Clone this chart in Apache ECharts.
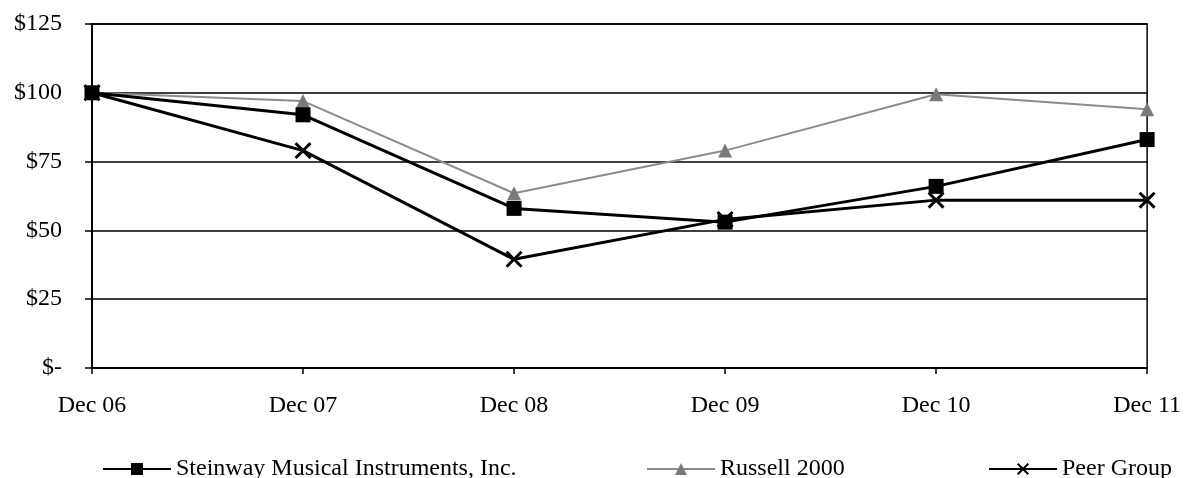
<!DOCTYPE html>
<html>
<head>
<meta charset="utf-8">
<script src="https://cdn.jsdelivr.net/npm/echarts@6/dist/echarts.min.js"></script>
<style>
html,body{margin:0;padding:0;background:#fff;}
#c{width:1184px;height:478px;}
</style>
</head>
<body>
<div id="c"></div>
<script>
const categories = ['Dec 06', 'Dec 07', 'Dec 08', 'Dec 09', 'Dec 10', 'Dec 11'];
const steinway = [100, 92, 58, 53, 66, 83];
const russell = [100, 97, 63.5, 79, 99.5, 94];
const peer = [100, 79, 39.5, 54, 61, 61];
const yTicks = [0, 25, 50, 75, 100, 125];

const FONT = 'Liberation Serif';
const FS = 24;
const crossPath = 'path://M0,1.2 L1.2,0 L5,3.8 L8.8,0 L10,1.2 L6.2,5 L10,8.8 L8.8,10 L5,6.2 L1.2,10 L0,8.8 L3.8,5 Z';

const chart = echarts.init(document.getElementById('c'), null, {renderer: 'canvas'});
const legendText = {color: '#000', fontFamily: FONT, fontSize: FS};
chart.setOption({
  animation: false,
  backgroundColor: '#fff',
  textStyle: {fontFamily: FONT, color: '#000'},
  grid: {left: 92, right: 36, top: 24, bottom: 110, show: true, borderColor: '#000', borderWidth: 1.5, backgroundColor: 'transparent'},
  legend: [
    {data: ['Steinway Musical Instruments, Inc.'], left: 97, top: 452, itemWidth: 68, itemHeight: 15, textStyle: legendText},
    {data: ['Russell 2000'], left: 641, top: 452, itemWidth: 68, itemHeight: 15, textStyle: legendText},
    {data: ['Peer Group'], left: 983, top: 452, itemWidth: 68, itemHeight: 15, textStyle: legendText}
  ],
  xAxis: {
    type: 'category',
    data: categories,
    boundaryGap: false,
    axisLine: {show: true, lineStyle: {color: '#000', width: 1.5}},
    axisTick: {show: true, length: 6, lineStyle: {color: '#000', width: 1.5}},
    axisLabel: {color: '#000', fontFamily: FONT, fontSize: FS, margin: 26},
    splitLine: {show: false}
  },
  yAxis: {
    type: 'value',
    min: yTicks[0],
    max: yTicks[yTicks.length - 1],
    interval: 25,
    axisLine: {show: true, lineStyle: {color: '#000', width: 2}},
    axisTick: {show: true, length: 7, lineStyle: {color: '#000', width: 1.5}},
    axisLabel: {color: '#000', fontFamily: FONT, fontSize: FS, margin: 30,
      formatter: v => v === 0 ? '$-' : '$' + v},
    splitLine: {show: true, lineStyle: {color: '#000', width: 1.5}}
  },
  series: [
    {
      name: 'Russell 2000', type: 'line', data: russell, z: 2,
      symbol: 'triangle', symbolSize: 14, showAllSymbol: true,
      lineStyle: {color: '#8c8c8c', width: 2},
      itemStyle: {color: '#7a7a7a'}
    },
    {
      name: 'Peer Group', type: 'line', data: peer, z: 3,
      symbol: crossPath, symbolSize: 17, showAllSymbol: true,
      lineStyle: {color: '#000', width: 3},
      itemStyle: {color: '#000'}
    },
    {
      name: 'Steinway Musical Instruments, Inc.', type: 'line', data: steinway, z: 4,
      symbol: 'rect', symbolSize: 15, showAllSymbol: true,
      lineStyle: {color: '#000', width: 3},
      itemStyle: {color: '#000'}
    }
  ]
});
</script>
</body>
</html>
